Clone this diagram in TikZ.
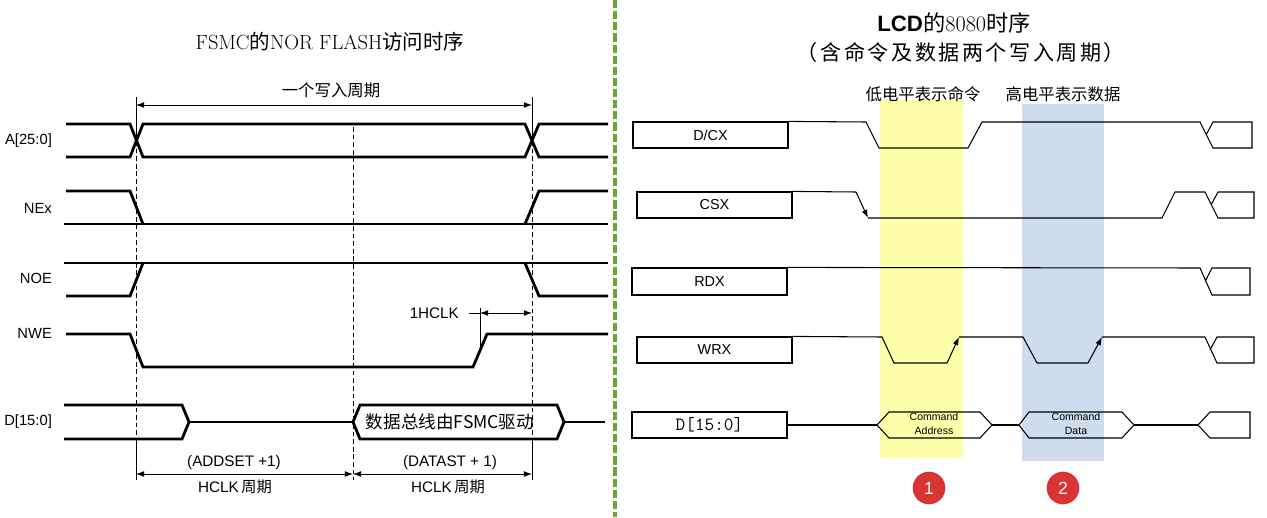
\documentclass[tikz,border=0pt]{standalone}
\usepackage{fontspec}
\usepackage{tikz}
\usetikzlibrary{arrows.meta}
\setsansfont{Liberation Sans}
\newfontfamily\cjk{Noto Sans CJK SC}
\newfontfamily\cjkwide[LetterSpace=12]{Noto Sans CJK SC}
\newcommand\fsz[1]{\fontsize{#1}{#1}\selectfont}
\definecolor{bandyellow}{RGB}{255,255,170}
\definecolor{bandblue}{RGB}{207,220,238}
\definecolor{badgered}{RGB}{217,52,52}
\definecolor{divgreen}{RGB}{98,168,50}

\begin{document}
\begin{tikzpicture}[x=0.3mm,y=-0.3mm,
  wave/.style={black,line width=2.4pt},
  sig/.style={black,line width=0.9pt},
  guide/.style={black,line width=0.7pt,dash pattern=on 4pt off 2.5pt},
  stem/.style={black,line width=0.7pt},
  dimarrow/.style={black,line width=0.7pt,{Latex[length=7pt,width=5pt]}-{Latex[length=7pt,width=5pt]}},
  slope/.style={black,line width=0.9pt,-{Latex[length=7pt,width=5pt]}},
  lbl/.style={anchor=east,font=\fsz{12.6}\sffamily},
  sigbox/.style={draw,line width=1pt,inner sep=0pt,minimum width=46.5mm,minimum height=7.8mm,font=\fsz{12.3}\sffamily},
  badge/.style={circle,fill=badgered,minimum size=9.8mm,inner sep=0pt,text=white,font=\fsz{15}\sffamily}
]
\useasboundingbox (0,0) rectangle (1267,517);

% left: FSMC NOR FLASH
\node (ltitle) at (330,42) {\fsz{17.5}\rmfamily FSMC\cjk 的\rmfamily NOR FLASH\cjk 访问时序};

\node[lbl] (la) at (56,141) {A[25:0]};
\node[lbl] (lne) at (56,208) {NEx};
\node[lbl] (lnoe) at (56,278) {NOE};
\node[lbl] (lnwe) at (56,333) {NWE};
\node[lbl] (ld) at (56,422) {D[15:0]};

\coordinate (c0) at (136,105);
\coordinate (c1) at (532,105);
\coordinate (cm) at (353,474);
\coordinate (b0) at (136,474);
\coordinate (b1) at (532,474);
\coordinate (h0) at (480,313);
\coordinate (h1) at (532,313);

\draw[stem] (136,97)--(136,141);
\draw[stem] (532,97)--(532,141);
\draw[guide] (136,141)--(136,440);
\draw[guide] (532,141)--(532,440);
\draw[stem] (136,440)--(136,480);
\draw[stem] (532,440)--(532,480);
\draw[guide] (353,127)--(353,480);
\draw[stem] (480,308)--(480,350);

\draw[dimarrow] (c0)--(c1);
\node[font=\fsz{14}\cjk] (cycle) at (331,90) {一个写入周期};

\draw[wave] (66,124)--(130,124)--(143,157)--(525,157)--(539,124)--(608,124);
\draw[wave] (66,157)--(130,157)--(143,124)--(525,124)--(539,157)--(608,157);

\draw[wave] (66,191)--(130,191)--(143,224);
\draw[wave] (64,224)--(608,224);
\draw[wave] (525,224)--(539,191)--(608,191);

\draw[wave] (64,263)--(608,263);
\draw[wave] (66,296)--(130,296)--(143,263);
\draw[wave] (525,263)--(539,296)--(608,296);

\draw[wave] (66,334)--(130,334)--(143,367)--(473,367)--(487,334)--(608,334);

\node[font=\fsz{13}\sffamily,anchor=east] (onehclk) at (463,313) {1HCLK};
\draw[stem] (onehclk.east)++(6,0)--(h0);
\draw[dimarrow] (h0)--(h1);

\draw[wave] (64,405)--(182,405)--(189,422)--(182,439)--(64,439);
\draw[wave] (189,422)--(353,422);
\draw[wave] (353,422)--(360,405)--(557,405)--(564,422)--(557,439)--(360,439)--cycle;
\draw[wave] (564,422)--(605,422);
\node[font=\fsz{15}\cjk] (dbus) at (450,422) {数据总线由FSMC驱动};

\draw[dimarrow] (b0)--(cm);
\draw[dimarrow] (cm)--(b1);
\node[font=\fsz{13}\sffamily] (addset) at (234,463) {(ADDSET +1)};
\node[font=\fsz{13}\sffamily] (addclk) at (235,487) {HCLK\,\cjk 周期};
\node[font=\fsz{13}\sffamily] (datast) at (450,463) {(DATAST + 1)};
\node[font=\fsz{13}\sffamily] (datclk) at (448,487) {HCLK\,\cjk 周期};

% divider
\draw[divgreen,line width=3pt,dash pattern=on 7pt off 2.5pt] (615,0)--(615,517);

% right: LCD 8080
\fill[bandyellow] (880,100) rectangle (963,458);
\fill[bandblue] (1022,104) rectangle (1104,461);

\node (rtitle) at (954,23) {\fsz{19}\sffamily\bfseries LCD\mdseries\cjk 的\rmfamily 8080\cjk 时序};
\node (rsub) at (961,52) {\fsz{18}\cjkwide（含命令及数据两个写入周期）};
\node[font=\fsz{14}\cjk] (lowcmd) at (923,94) {低电平表示命令};
\node[font=\fsz{14}\cjk] (highdat) at (1063,94) {高电平表示数据};

\node[sigbox] (dcx) at (710.5,135) {D/CX};
\node[sigbox] (csx) at (714.5,205) {CSX};
\node[sigbox,minimum height=8.1mm] (rdx) at (709.5,281.5) {RDX};
\node[sigbox] (wrx) at (714.5,350) {WRX};
\node[sigbox,font=\fsz{16}\ttfamily] (dat) at (709.5,425) {D[15:0]};

\draw[sig] (dcx.north east)--(866,122)--(879,148)--(968,148)--(982,122)--(1200,122)--(1213,148)--(1252,148)--(1252,122)--(1213,122)--(1206,135);

\draw[sig] (csx.north east)--(856,192);
\draw[slope] (856,192)--(868,218);
\draw[sig] (868,218)--(1162,218)--(1175,192)--(1205,192)--(1218,218)--(1254,218)--(1254,192)--(1218,192)--(1211,205);

\draw[sig] (rdx.north east)--(1200,268)--(1212,295)--(1250,295)--(1250,268)--(1212,268)--(1205,281.5);

\draw[sig] (wrx.north east)--(882,337)--(894,363)--(947,363);
\draw[slope] (947,363)--(959,337);
\draw[sig] (959,337)--(1023,337)--(1037,363)--(1088,363);
\draw[slope] (1088,363)--(1102,337);
\draw[sig] (1102,337)--(1205,337)--(1217,363)--(1254,363)--(1254,337)--(1217,337)--(1210,350);

\draw[sig] (dat.east)--(877,425);
\draw[sig] (877,425)--(889,412)--(980,412)--(992,425)--(980,438)--(889,438)--cycle;
\draw[sig] (992,425)--(1019,425);
\draw[sig] (1019,425)--(1029,412)--(1122,412)--(1134,425)--(1122,438)--(1029,438)--cycle;
\draw[sig] (1134,425)--(1198,425);
\draw[sig] (1198,425)--(1210,412)--(1250,412)--(1250,438)--(1210,438)--cycle;
\node[align=center,font=\fontsize{9}{12}\selectfont\sffamily] (cmdaddr) at (934,424) {Command\\Address};
\node[align=center,font=\fontsize{9}{12}\selectfont\sffamily] (cmddata) at (1076,424) {Command\\Data};

\node[badge] (one) at (929,488) {1};
\node[badge] (two) at (1063,488) {2};

\end{tikzpicture}
\end{document}
